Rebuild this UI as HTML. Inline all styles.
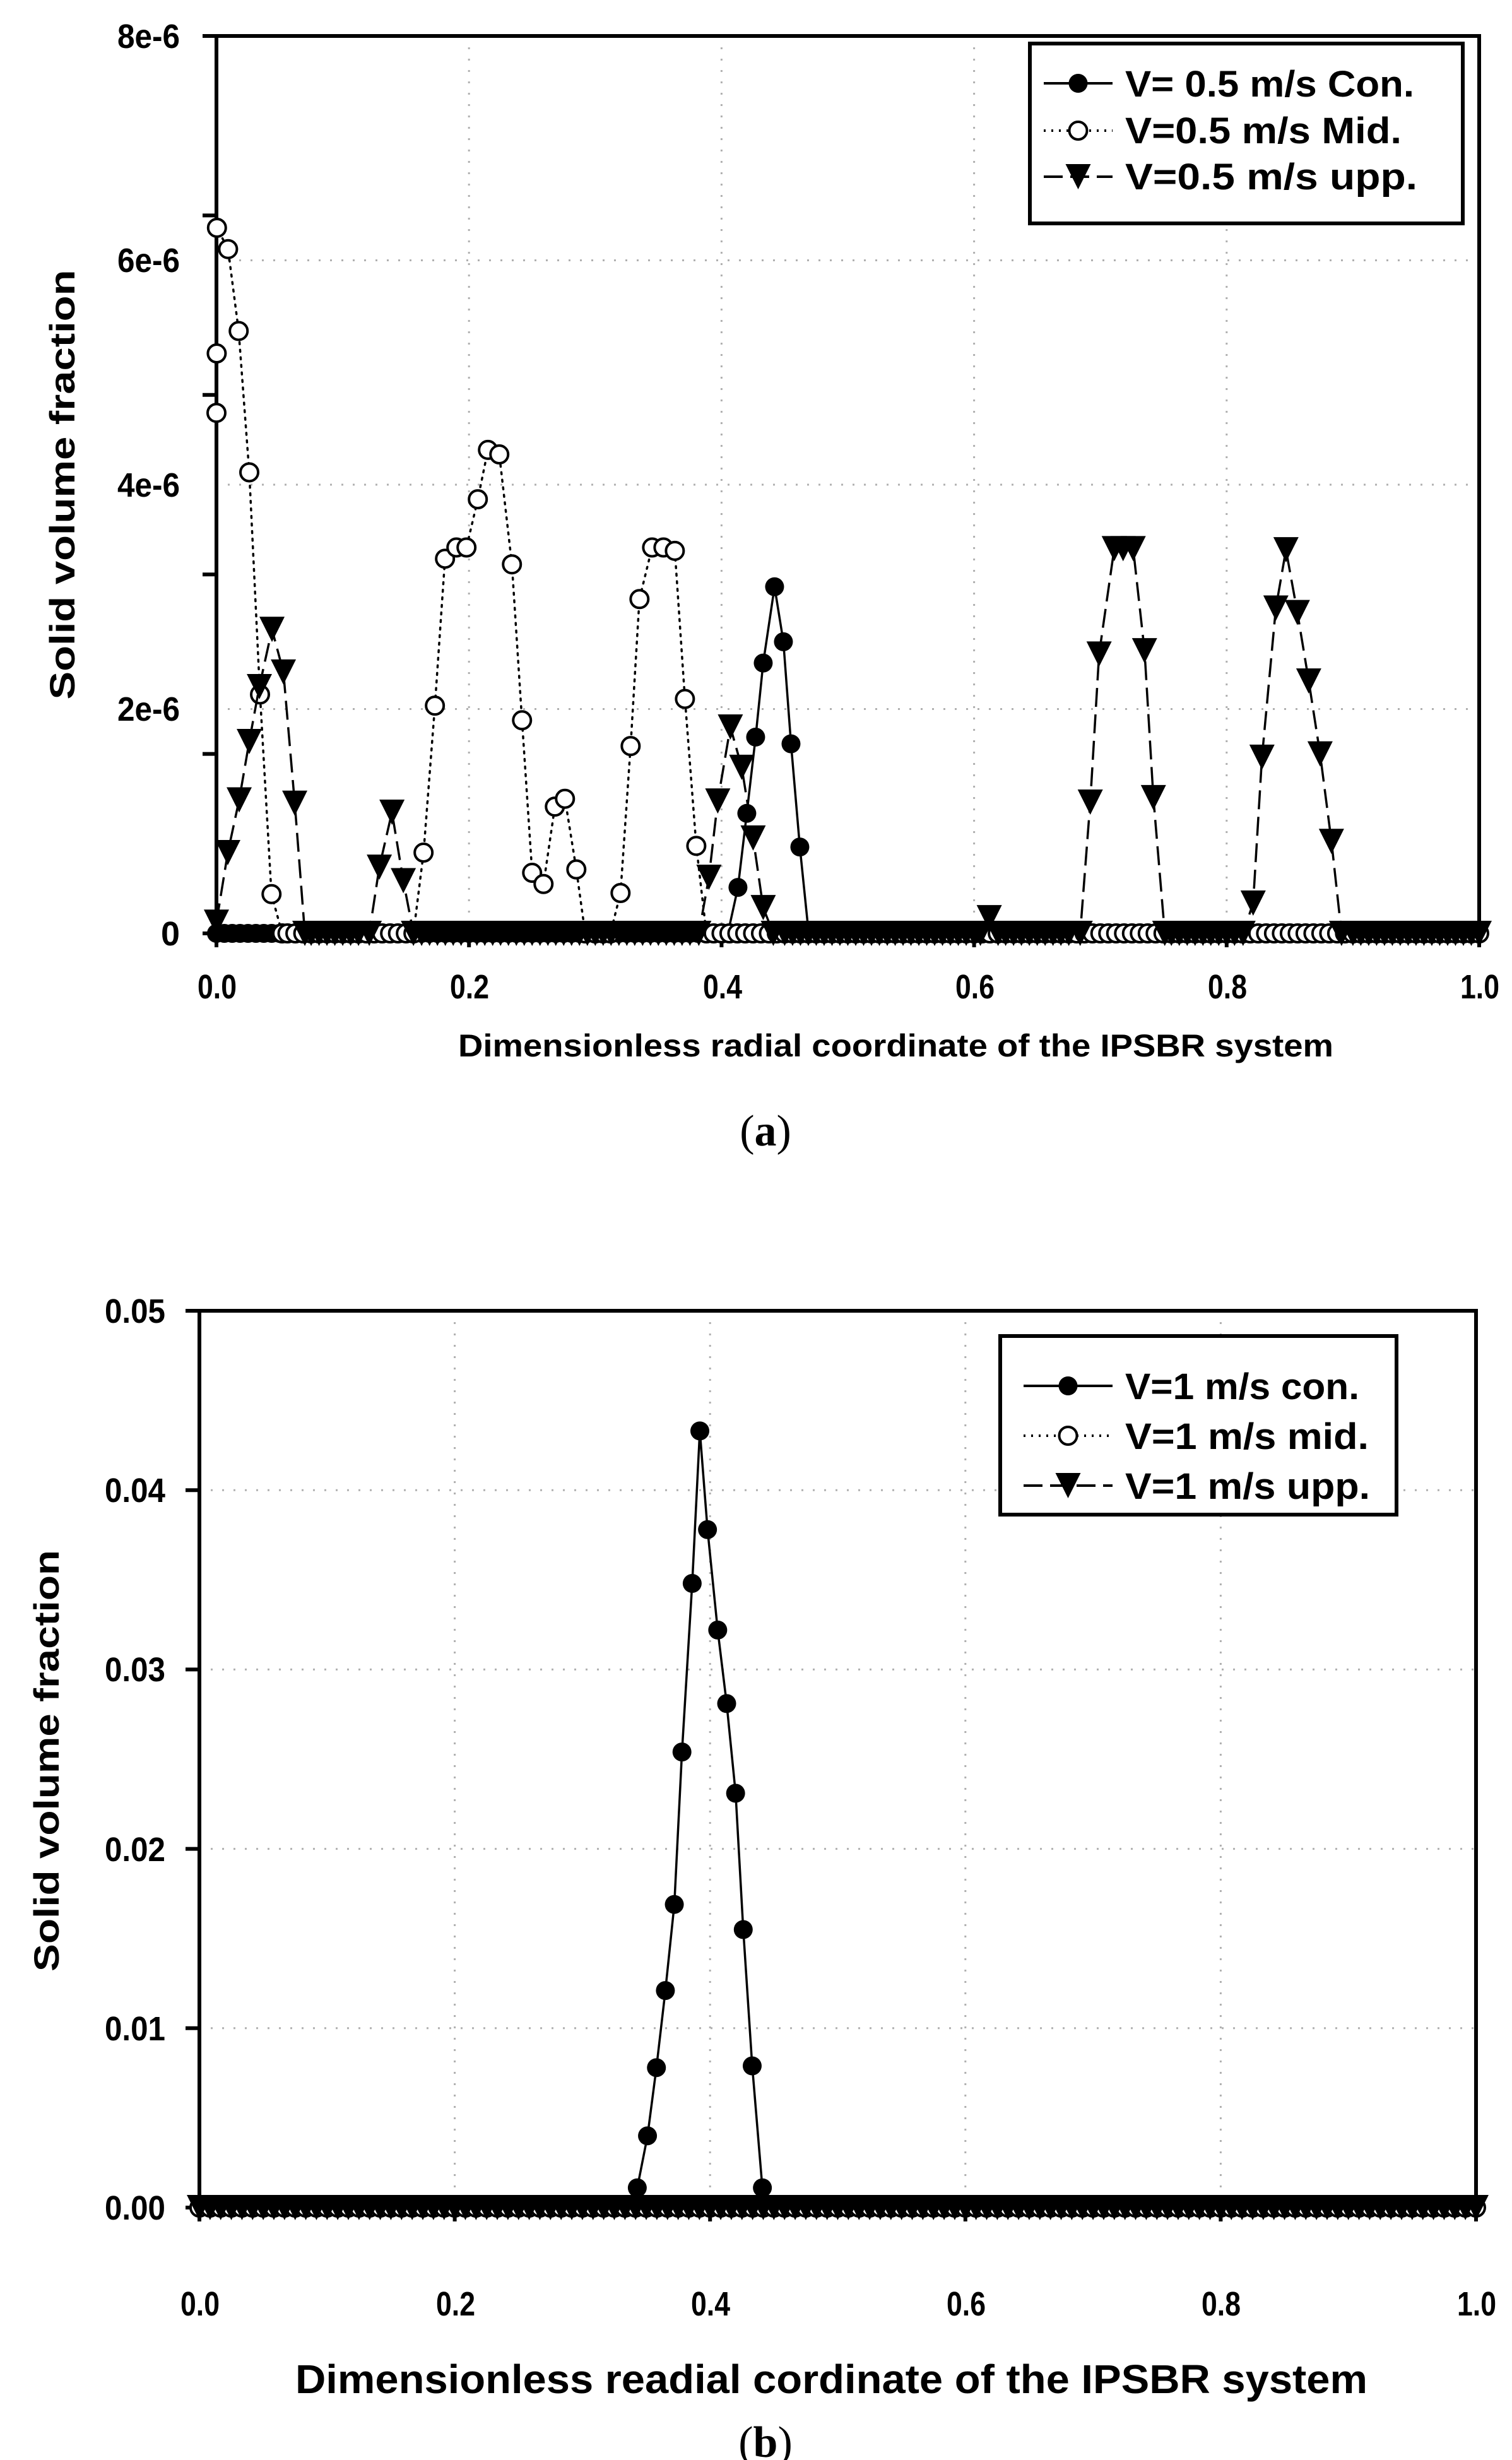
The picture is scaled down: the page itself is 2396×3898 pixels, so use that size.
<!DOCTYPE html>
<html><head><meta charset="utf-8">
<style>
html,body{margin:0;padding:0;background:#fff;}
svg{display:block;}
.t{font-family:"Liberation Sans Narrow","Liberation Sans",sans-serif;font-weight:bold;fill:#000;}
.s{font-family:"Liberation Serif",serif;fill:#000;}
</style></head>
<body>
<svg id="svg" xmlns="http://www.w3.org/2000/svg" width="2396" height="3898" viewBox="0 0 2396 3898">
<rect width="2396" height="3898" fill="#fff"/>
<g id="g"></g>
<g class="t" font-size="54">
<text x="186" y="76" textLength="99" lengthAdjust="spacingAndGlyphs">8e-6</text>
<text x="186" y="431" textLength="99" lengthAdjust="spacingAndGlyphs">6e-6</text>
<text x="186" y="787" textLength="99" lengthAdjust="spacingAndGlyphs">4e-6</text>
<text x="186" y="1142" textLength="99" lengthAdjust="spacingAndGlyphs">2e-6</text>
<text x="285" y="1498" text-anchor="end">0</text>
<text x="313" y="1582" textLength="62" lengthAdjust="spacingAndGlyphs">0.0</text>
<text x="713" y="1582" textLength="62" lengthAdjust="spacingAndGlyphs">0.2</text>
<text x="1114" y="1582" textLength="62" lengthAdjust="spacingAndGlyphs">0.4</text>
<text x="1514" y="1582" textLength="62" lengthAdjust="spacingAndGlyphs">0.6</text>
<text x="1914" y="1582" textLength="62" lengthAdjust="spacingAndGlyphs">0.8</text>
<text x="2314" y="1582" textLength="62" lengthAdjust="spacingAndGlyphs">1.0</text>
<text x="726" y="1674" textLength="1387" lengthAdjust="spacingAndGlyphs" font-size="50">Dimensionless radial coordinate of the IPSBR system</text>
<text x="1783" y="153" textLength="458" lengthAdjust="spacingAndGlyphs" font-size="58">V=  0.5 m/s Con.</text>
<text x="1783" y="227" textLength="438" lengthAdjust="spacingAndGlyphs" font-size="58">V=0.5 m/s Mid.</text>
<text x="1783" y="300" textLength="463" lengthAdjust="spacingAndGlyphs" font-size="58">V=0.5 m/s upp.</text>
</g>
<text class="t" font-size="56" transform="translate(118,768) rotate(-90)" text-anchor="middle" textLength="681" lengthAdjust="spacingAndGlyphs" style="font-family:'Liberation Sans',sans-serif">Solid volume fraction</text>
<text class="s" x="1213" y="1815" font-size="70" text-anchor="middle">(<tspan font-weight="bold">a</tspan>)</text>
<g class="t" font-size="54">
<text x="166" y="2096" textLength="96" lengthAdjust="spacingAndGlyphs">0.05</text>
<text x="166" y="2380" textLength="96" lengthAdjust="spacingAndGlyphs">0.04</text>
<text x="166" y="2664" textLength="96" lengthAdjust="spacingAndGlyphs">0.03</text>
<text x="166" y="2949" textLength="96" lengthAdjust="spacingAndGlyphs">0.02</text>
<text x="166" y="3233" textLength="96" lengthAdjust="spacingAndGlyphs">0.01</text>
<text x="166" y="3517" textLength="96" lengthAdjust="spacingAndGlyphs">0.00</text>
<text x="286" y="3669" textLength="62" lengthAdjust="spacingAndGlyphs">0.0</text>
<text x="691" y="3669" textLength="62" lengthAdjust="spacingAndGlyphs">0.2</text>
<text x="1095" y="3669" textLength="62" lengthAdjust="spacingAndGlyphs">0.4</text>
<text x="1500" y="3669" textLength="62" lengthAdjust="spacingAndGlyphs">0.6</text>
<text x="1904" y="3669" textLength="62" lengthAdjust="spacingAndGlyphs">0.8</text>
<text x="2309" y="3669" textLength="62" lengthAdjust="spacingAndGlyphs">1.0</text>
<text x="468" y="3792" textLength="1699" lengthAdjust="spacingAndGlyphs" font-size="64">Dimensionless readial cordinate of the IPSBR system</text>
<text x="1783" y="2217" textLength="371" lengthAdjust="spacingAndGlyphs" font-size="58">V=1 m/s con.</text>
<text x="1783" y="2296" textLength="386" lengthAdjust="spacingAndGlyphs" font-size="58">V=1 m/s mid.</text>
<text x="1783" y="2375" textLength="388" lengthAdjust="spacingAndGlyphs" font-size="58">V=1 m/s upp.</text>
</g>
<text class="t" font-size="56" transform="translate(93,2790) rotate(-90)" text-anchor="middle" textLength="668" lengthAdjust="spacingAndGlyphs" style="font-family:'Liberation Sans',sans-serif">Solid volume fraction</text>
<text class="s" x="1213" y="3893" font-size="70" text-anchor="middle">(<tspan font-weight="bold">b</tspan>)</text>
</svg>
<script>
(function(){
var NS="http://www.w3.org/2000/svg",g=document.getElementById("g");
function el(t,a){var e=document.createElementNS(NS,t);for(var k in a)e.setAttribute(k,a[k]);g.appendChild(e);return e;}
function tri(x,y){return (x-20)+","+(y-20)+" "+(x+20)+","+(y-20)+" "+x+","+(y+20);}
function plot(P){
  var X=function(v){return P.x0+v*(P.x1-P.x0);},Y=function(v){return P.y0-v/P.ymax*(P.y0-P.yt);};
  [0.2,0.4,0.6,0.8].forEach(function(v){el("line",{x1:X(v),y1:P.yt,x2:X(v),y2:P.y0,stroke:"#b0b0b0","stroke-width":3,"stroke-dasharray":"3 15"});});
  P.yt2.forEach(function(v){el("line",{x1:P.x0,y1:Y(v),x2:P.x1,y2:Y(v),stroke:"#b0b0b0","stroke-width":3,"stroke-dasharray":"3 15"});});
  el("rect",{x:P.x0,y:P.yt,width:P.x1-P.x0,height:P.y0-P.yt,fill:"none",stroke:"#000","stroke-width":6});
  for(var i=0;i<=5;i++){var yy=P.yt+i*(P.y0-P.yt)/5;el("line",{x1:P.x0-22,y1:yy,x2:P.x0,y2:yy,stroke:"#000","stroke-width":6});
    var xx=P.x0+i*(P.x1-P.x0)/5;el("line",{x1:xx,y1:P.y0,x2:xx,y2:P.y0+22,stroke:"#000","stroke-width":6});}
  P.series.forEach(function(S){
    var pts=[];
    for(var i=0;i<=P.n;i++){var x=i/P.n,skip=false;
      S.peaks.forEach(function(pk){if(x>pk[0][0]-0.004&&x<pk[pk.length-1][0]+0.004)skip=true;});
      if(!skip)pts.push([x,0]);}
    S.peaks.forEach(function(pk){pk.forEach(function(p){pts.push([p[0],p[1]*P.k]);});});
    pts.sort(function(a,b){return a[0]-b[0];});
    var d=pts.map(function(p,i){return (i?"L":"M")+X(p[0]).toFixed(1)+","+Y(p[1]).toFixed(1);}).join("");
    el("path",{d:d,fill:"none",stroke:"#000","stroke-width":3.5,"stroke-dasharray":S.dash||"none","stroke-linecap":S.dash=="3 9"?"round":"butt"});
    pts.forEach(function(p){var x=X(p[0]),y=Y(p[1]);
      if(S.m=="f")el("circle",{cx:x,cy:y,r:15,fill:"#000"});
      else if(S.m=="o")el("circle",{cx:x,cy:y,r:14,fill:"#fff",stroke:"#000","stroke-width":4});
      else el("polygon",{points:tri(x,y),fill:"#000"});});
  });
  var L=P.leg;
  el("rect",{x:L.x,y:L.y,width:L.w,height:L.h,fill:"#fff",stroke:"#000","stroke-width":6});
  L.rows.forEach(function(ry,i){
    var dash=["none","3 9","30 12"][i];
    el("line",{x1:L.sx1,y1:ry,x2:L.sx2,y2:ry,stroke:"#000","stroke-width":4,"stroke-dasharray":dash});
    var mx=(L.sx1+L.sx2)/2;
    if(i==0)el("circle",{cx:mx,cy:ry,r:15,fill:"#000"});
    else if(i==1)el("circle",{cx:mx,cy:ry,r:14,fill:"#fff",stroke:"#000","stroke-width":4});
    else el("polygon",{points:tri(mx,ry),fill:"#000"});
  });
}
var a={x0:343,x1:2344,yt:57,y0:1479,ymax:8e-6,k:1e-6,yt2:[2e-6,4e-6,6e-6],n:160,
 leg:{x:1632,y:69,w:686,h:285,sx1:1654,sx2:1763,rows:[132,207,280]},
 series:[
  {m:"f",peaks:[[[0.405,0],[0.413,0.41],[0.420,1.07],[0.427,1.75],[0.433,2.41],[0.442,3.09],[0.449,2.6],[0.455,1.69],[0.462,0.77],[0.469,0]]]},
  {m:"o",dash:"3 9",peaks:[
    [[0,4.64],[0.0002,5.17],[0.0004,6.29],[0.0092,6.10],[0.0176,5.37],[0.026,4.11],[0.0345,2.13],[0.0436,0.35],[0.052,0]],
    [[0.156,0],[0.164,0.72],[0.173,2.03],[0.181,3.34],[0.190,3.44],[0.198,3.44],[0.207,3.87],[0.215,4.31],[0.224,4.27],[0.234,3.29],[0.242,1.90],[0.250,0.54],[0.259,0.44],[0.268,1.13],[0.276,1.2],[0.285,0.57],[0.292,0]],
    [[0.312,0],[0.320,0.36],[0.328,1.67],[0.335,2.98],[0.345,3.44],[0.354,3.44],[0.363,3.41],[0.371,2.09],[0.380,0.78],[0.388,0]]]},
  {m:"v",dash:"30 12",peaks:[
    [[0,0.1],[0.009,0.72],[0.018,1.19],[0.026,1.71],[0.034,2.2],[0.044,2.71],[0.053,2.33],[0.062,1.16],[0.070,0]],
    [[0.121,0],[0.129,0.59],[0.139,1.08],[0.148,0.47],[0.156,0]],
    [[0.382,0],[0.390,0.5],[0.397,1.18],[0.407,1.84],[0.416,1.48],[0.425,0.85],[0.433,0.23],[0.441,0]],
    [[0.605,0],[0.612,0.14],[0.619,0]],
    [[0.684,0],[0.692,1.17],[0.699,2.49],[0.711,3.43],[0.718,3.43],[0.726,3.43],[0.735,2.52],[0.742,1.21],[0.751,0]],
    [[0.813,0],[0.821,0.27],[0.828,1.57],[0.839,2.9],[0.847,3.42],[0.856,2.86],[0.865,2.25],[0.874,1.6],[0.883,0.82],[0.891,0]]]}
 ]};
var b={x0:316,x1:2339,yt:2077,y0:3498,ymax:0.05,k:1,yt2:[0.01,0.02,0.03,0.04],n:120,
 leg:{x:1585,y:2117,w:628,h:283,sx1:1622,sx2:1763,rows:[2196,2275,2354]},
 series:[
  {m:"f",peaks:[[[0.335,0],[0.343,0.0011],[0.351,0.004],[0.358,0.0078],[0.365,0.0121],[0.372,0.0169],[0.378,0.0254],[0.386,0.0348],[0.392,0.0433],[0.398,0.0378],[0.406,0.0322],[0.413,0.0281],[0.420,0.0231],[0.426,0.0155],[0.433,0.0079],[0.441,0.0011],[0.449,0]]]},
  {m:"o",dash:"3 9",peaks:[]},
  {m:"v",dash:"30 12",peaks:[]}
 ]};
plot(a);plot(b);
})();
</script>
</body></html>
